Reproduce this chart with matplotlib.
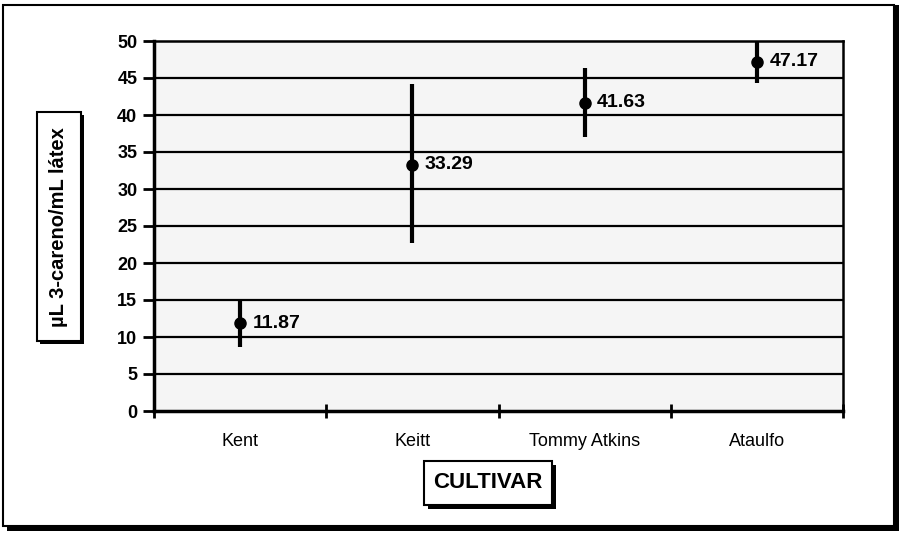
import matplotlib.pyplot as plt
from matplotlib.patches import Rectangle
import numpy as np

plt.rcParams['font.family'] = ['Liberation Sans', 'DejaVu Sans']

# Data
cultivars = ["Kent", "Keitt", "Tommy Atkins", "Ataulfo"]
means = [11.87, 33.29, 41.63, 47.17]
lower = [8.7, 22.7, 37.0, 44.3]
upper = [15.0, 44.2, 46.3, 50.0]
labels = ["11.87", "33.29", "41.63", "47.17"]
yticks = [0, 5, 10, 15, 20, 25, 30, 35, 40, 45, 50]

fig = plt.figure(figsize=(9.06, 5.37), dpi=100)
W, H = 906, 537
ax = fig.add_axes([154 / W, 1 - 411 / H, (843 - 154) / W, (411 - 41) / H])
ax.set_zorder(5)
ax.set_facecolor("#f5f5f5")

x = np.arange(len(cultivars))
means_a = np.array(means)
yerr = [means_a - np.array(lower), np.array(upper) - means_a]

for y in yticks[1:-1]:
    ax.axhline(y, color="black", lw=1.6, zorder=1)

ax.errorbar(x, means, yerr=yerr, fmt="o", color="black", ms=8, elinewidth=3,
            capsize=0, zorder=3, clip_on=True)
for xi, m, lab in zip(x, means, labels):
    ax.annotate(lab, (xi, m), xytext=(9, 0), textcoords="offset points",
                va="center", ha="left", fontsize=14, fontweight="bold", zorder=4)

ax.set_xlim(-0.5, len(cultivars) - 0.5)
ax.set_ylim(0, 50)
ax.set_yticks(yticks)
ax.set_yticklabels([str(v) for v in yticks], fontsize=13, fontweight="bold")
ax.set_xticks(x)
ax.set_xticklabels(cultivars, fontsize=13)
ax.set_xticks(np.arange(len(cultivars) + 1) - 0.5, minor=True)
ax.tick_params(axis="x", which="major", length=0, pad=16)
ax.tick_params(axis="x", which="minor", direction="inout", length=10, width=2)
ax.tick_params(axis="y", direction="out", length=8, width=2, pad=4)

for s in ["left", "bottom"]:
    ax.spines[s].set_linewidth(2.5)
for s in ["top", "right"]:
    ax.spines[s].set_linewidth(1.8)

# outer frame with shadow
fig.patches.append(Rectangle((7 / W, 1 - 531 / H), 892 / W, 526 / H,
                             transform=fig.transFigure, facecolor="black",
                             edgecolor="none", zorder=0))
fig.patches.append(Rectangle((3 / W, 1 - 526 / H), 891 / W, 521 / H,
                             transform=fig.transFigure, facecolor="white",
                             edgecolor="black", lw=1.5, zorder=0.5))

# y label box
fig.patches.append(Rectangle((40 / W, 1 - 344 / H), 44 / W, 229 / H,
                             transform=fig.transFigure, facecolor="black",
                             edgecolor="none", zorder=1))
fig.patches.append(Rectangle((37 / W, 1 - 341 / H), 44 / W, 229 / H,
                             transform=fig.transFigure, facecolor="white",
                             edgecolor="black", lw=1.5, zorder=1.5))
fig.text(59 / W, 1 - 227 / H, "µL 3-careno/mL látex", rotation=90,
         ha="center", va="center", fontsize=14.5, fontweight="bold", zorder=2)

# x label box
fig.patches.append(Rectangle((428 / W, 1 - 509 / H), 128 / W, 44 / H,
                             transform=fig.transFigure, facecolor="black",
                             edgecolor="none", zorder=1))
fig.patches.append(Rectangle((424 / W, 1 - 505 / H), 128 / W, 44 / H,
                             transform=fig.transFigure, facecolor="white",
                             edgecolor="black", lw=1.5, zorder=1.5))
fig.text(488 / W, 1 - 483 / H, "CULTIVAR", ha="center", va="center",
         fontsize=16, fontweight="bold", zorder=2)

fig.savefig("out.png", dpi=100)
